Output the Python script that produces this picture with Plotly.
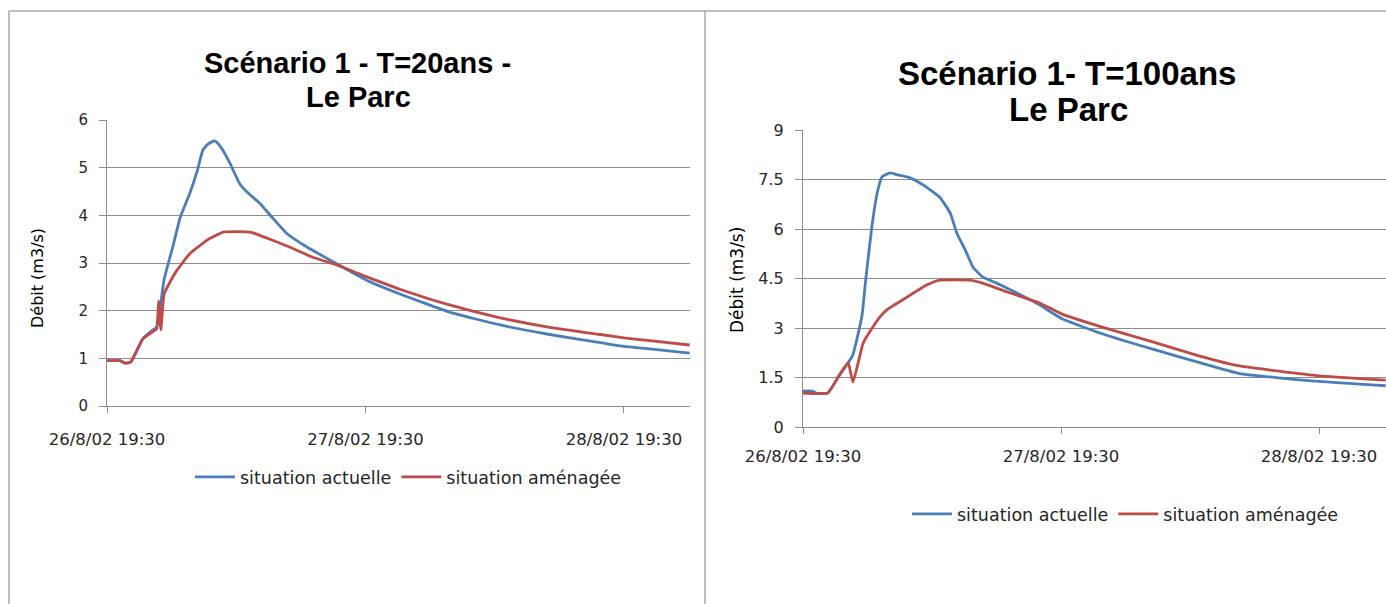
import pandas as pd
import plotly.graph_objects as go

W, H = 1386, 604
T0 = pd.Timestamp("2002-08-26 19:30")

# Scénario 1 - T=20ans - Le Parc : hours since start, discharge (m3/s)
h20_actuelle = [0, 1.2, 1.7, 2.2, 3.3, 4.0, 4.6, 4.9, 5.3, 6.1, 6.8, 7.7, 8.4, 8.9,
                9.4, 10.0, 10.5, 11.4, 12.3, 13.0, 14.2, 15.4, 16.7, 18.6, 21.2,
                24.0, 27.2, 31.8, 36.5, 41.1, 45.8, 48.0, 50.4, 54.1]
q20_actuelle = [0.95, 0.95, 0.90, 0.92, 1.40, 1.55, 1.65, 2.00, 2.65, 3.33, 3.96,
                4.47, 4.95, 5.37, 5.50, 5.56, 5.45, 5.10, 4.67, 4.49, 4.25, 3.94,
                3.62, 3.33, 3.00, 2.65, 2.35, 1.97, 1.70, 1.50, 1.33, 1.25, 1.20, 1.11]
h20_amenagee = [0, 1.2, 1.7, 2.2, 3.3, 4.0, 4.6, 4.8, 5.0, 5.3, 5.85, 6.5, 7.7, 9.3,
                10.8, 13.3, 14.9, 17.0, 19.1, 21.2, 24.0, 27.2, 31.8, 36.5, 41.1,
                45.8, 48.0, 50.4, 54.1]
q20_amenagee = [0.95, 0.95, 0.90, 0.92, 1.40, 1.52, 1.62, 2.20, 1.60, 2.35, 2.60,
                2.85, 3.20, 3.48, 3.65, 3.65, 3.52, 3.33, 3.12, 2.97, 2.72, 2.45,
                2.12, 1.85, 1.65, 1.50, 1.43, 1.37, 1.28]

# Scénario 1 - T=100ans - Le Parc
h100_actuelle = [0, 0.9, 1.2, 2.3, 3.4, 4.2, 4.5, 4.65, 5.0, 5.5, 5.8, 6.4, 6.9, 7.35,
                 8.1, 8.8, 9.95, 11.2, 12.7, 13.7, 14.3, 15.1, 15.8, 16.7, 18.0,
                 19.9, 22.0, 24.1, 27.6, 32.3, 36.9, 40.6, 48.0, 54.2]
q100_actuelle = [1.09, 1.09, 1.03, 1.03, 1.58, 1.95, 2.10, 2.20, 2.64, 3.40, 4.36,
                 6.06, 7.09, 7.58, 7.70, 7.64, 7.55, 7.33, 6.97, 6.48, 5.88, 5.36,
                 4.85, 4.55, 4.36, 4.06, 3.70, 3.28, 2.85, 2.38, 1.95, 1.62, 1.38, 1.25]
h100_amenagee = [0, 2.3, 3.4, 4.2, 4.65, 5.6, 6.5, 7.2, 7.8, 9.7, 11.5, 12.7, 15.5,
                 16.7, 19.0, 22.0, 24.1, 27.6, 32.3, 36.9, 40.6, 48.0, 54.2]
q100_amenagee = [1.03, 1.03, 1.58, 1.94, 1.36, 2.55, 3.03, 3.35, 3.55, 3.94, 4.30,
                 4.45, 4.45, 4.36, 4.09, 3.76, 3.42, 3.05, 2.60, 2.15, 1.85, 1.55, 1.42]

x_tick_hours = [0, 24, 48]
x_tick_labels = ["26/8/02 19:30", "27/8/02 19:30", "28/8/02 19:30"]
y20_ticks = [0, 1, 2, 3, 4, 5, 6]
y100_ticks = [0, 1.5, 3, 4.5, 6, 7.5, 9]
y100_tick_labels = ["0", "1.5", "3", "4.5", "6", "7.5", "9"]

BLUE = "#4A7EBB"
RED = "#BE4B48"
GRID = "#8C8C8C"
TXT = "#262626"
SMALL = "DejaVu Sans"
TITLE = "Liberation Sans"


def ts(hours):
    return [T0 + pd.Timedelta(hours=h) for h in hours]


def px(x):
    return x / W


def py(y):
    return 1 - y / H


fig = go.Figure()

series = [
    (h20_actuelle, q20_actuelle, "situation actuelle", BLUE, "x", "y", "legend"),
    (h20_amenagee, q20_amenagee, "situation aménagée", RED, "x", "y", "legend"),
    (h100_actuelle, q100_actuelle, "situation actuelle", BLUE, "x2", "y2", "legend2"),
    (h100_amenagee, q100_amenagee, "situation aménagée", RED, "x2", "y2", "legend2"),
]
for hrs, q, name, col, xa, ya, lg in series:
    fig.add_trace(go.Scatter(
        x=ts(hrs), y=q, name=name, mode="lines",
        line=dict(color=col, width=2.8, shape="spline", smoothing=0.4),
        xaxis=xa, yaxis=ya, legend=lg, hoverinfo="skip",
    ))


def xaxis_cfg(domain, end_h, size, standoff):
    return dict(
        domain=domain, type="date", automargin=False,
        range=[T0, T0 + pd.Timedelta(hours=end_h)],
        tickmode="array", tickvals=ts(x_tick_hours), ticktext=x_tick_labels,
        ticks="outside", ticklen=6, tickcolor=GRID, tickwidth=1,
        showgrid=False, zeroline=False, showline=True, linecolor=GRID, linewidth=1,
        tickfont=dict(family=SMALL, size=size, color=TXT),
        ticklabelstandoff=standoff,
    )


def yaxis_cfg(domain, anchor, rng, vals, texts, size):
    return dict(
        domain=domain, anchor=anchor, range=rng, automargin=False,
        tickmode="array", tickvals=vals, ticktext=texts,
        ticks="outside", ticklen=7, tickcolor=GRID, tickwidth=1,
        showgrid=True, gridcolor=GRID, gridwidth=1,
        zeroline=False, showline=True, linecolor=GRID, linewidth=1,
        tickfont=dict(family=SMALL, size=size, color=TXT),
        ticklabelstandoff=8,
    )


def legend_cfg(x, y):
    return dict(orientation="h", x=px(x), y=py(y), xanchor="left",
                yanchor="middle", bgcolor="rgba(0,0,0,0)",
                font=dict(family=SMALL, size=17.5, color=TXT),
                itemwidth=40, tracegroupgap=0)


fig.update_layout(
    width=W, height=H,
    margin=dict(l=0, r=0, t=0, b=0, autoexpand=False),
    paper_bgcolor="white", plot_bgcolor="white",
    xaxis=dict(anchor="y", **xaxis_cfg([px(107), px(690)], 54.13, 16.5, 12)),
    yaxis=yaxis_cfg([py(406), py(120)], "x", [0, 6], y20_ticks,
                    [str(v) for v in y20_ticks], 15),
    xaxis2=dict(anchor="y2", **xaxis_cfg([px(803), 1.0], 54.23, 16.5, 8)),
    yaxis2=yaxis_cfg([py(427), py(130)], "x2", [0, 9], y100_ticks,
                     y100_tick_labels, 16),
    legend=legend_cfg(190, 477),
    legend2=legend_cfg(907, 514),
    showlegend=True,
)

# Chart titles (one annotation per line) and axis titles
titles = [
    ("Scénario 1 - T=20ans -", 357, 63, 29),
    ("Le Parc", 358, 97, 29),
    ("Scénario 1- T=100ans", 1067, 74, 33),
    ("Le Parc", 1068, 110, 33),
]
for txt, x, y, size in titles:
    fig.add_annotation(x=px(x), y=py(y), xref="paper", yref="paper",
                       text=f"<b>{txt}</b>", showarrow=False,
                       font=dict(family=TITLE, size=size, color="black"),
                       xanchor="center", yanchor="middle")

fig.add_annotation(x=px(37), y=py(278), xref="paper", yref="paper",
                   text="Débit (m3/s)", textangle=-90, showarrow=False,
                   font=dict(family=SMALL, size=16, color="black"),
                   xanchor="center", yanchor="middle")
fig.add_annotation(x=px(737), y=py(280), xref="paper", yref="paper",
                   text="Débit (m3/s)", textangle=-90, showarrow=False,
                   font=dict(family=SMALL, size=17, color="black"),
                   xanchor="center", yanchor="middle")

# Frame around the two panels
FRAME = "#7F7F7F"
for x0, y0, x1, y1 in [(9, 11, W, 11), (9, 11, 9, H), (705, 11, 705, H)]:
    fig.add_shape(type="line", xref="paper", yref="paper",
                  x0=px(x0), y0=py(y0), x1=px(x1), y1=py(y1),
                  line=dict(color=FRAME, width=1))

fig.write_html("out.html")
